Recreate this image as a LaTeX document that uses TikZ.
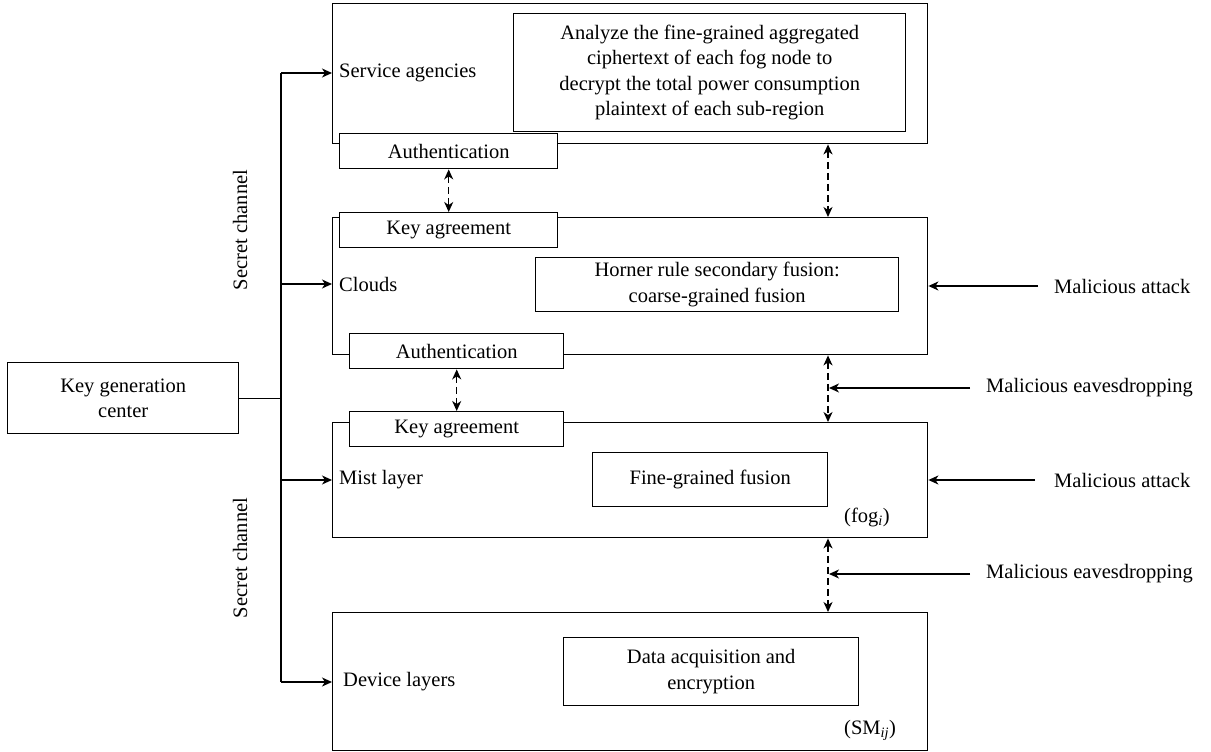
\documentclass[tikz,border=0pt]{standalone}
\usepackage{fontspec}
\setmainfont{LiberationSerif-Regular.ttf}[BoldFont=LiberationSerif-Bold.ttf, ItalicFont=LiberationSerif-Italic.ttf]
\usetikzlibrary{arrows.meta}
\begin{document}
\begin{tikzpicture}[x=1pt,y=-1pt,
  font=\fontsize{20.5}{25.5}\selectfont,
  lay/.style={draw, line width=1.4pt, anchor=north west, inner sep=0pt},
  ibox/.style={draw, fill=white, line width=1.4pt, anchor=north west, align=center, inner sep=0pt},
  txt/.style={inner sep=0pt, anchor=west},
  arr/.style={-{Stealth[length=10pt,width=9pt,inset=3pt]}, line width=1.4pt},
  darr/.style={{Stealth[length=10pt,width=9pt,inset=3pt]}-{Stealth[length=10pt,width=9pt,inset=3pt]}, line width=1.4pt, dash pattern=on 7pt off 4pt},
  plain/.style={line width=1.4pt}]
\useasboundingbox (0,0) rectangle (1211,752);

% layer boxes
\node[lay, minimum width=595pt, minimum height=140pt] (svc) at (332,3) {};
\node[lay, minimum width=595pt, minimum height=137pt] (cld) at (332,217) {};
\node[lay, minimum width=595pt, minimum height=115pt] (mst) at (332,422) {};
\node[lay, minimum width=595pt, minimum height=138pt] (dev) at (332,612) {};

% inner boxes
\node[ibox, minimum width=392pt, minimum height=118pt] (ana) at (513,13)
  {Analyze the fine-grained aggregated\\ciphertext of each fog node to\\decrypt the total power consumption\\plaintext of each sub-region};
\node[ibox, minimum width=218pt, minimum height=35pt] (au1) at (339,133) {Authentication};
\node[ibox, minimum width=218pt, minimum height=35pt] (ka1) at (339,212) {Key agreement};
\node[ibox, minimum width=363pt, minimum height=54pt] (hor) at (535,257)
  {Horner rule secondary fusion:\\coarse-grained fusion};
\node[ibox, minimum width=214pt, minimum height=35pt] (au2) at (349,333) {Authentication};
\node[ibox, minimum width=214pt, minimum height=35pt] (ka2) at (349,411) {Key agreement};
\node[ibox, minimum width=235pt, minimum height=54pt] (fin) at (592,452) {Fine-grained fusion};
\node[ibox, minimum width=295pt, minimum height=68pt] (dat) at (563,637)
  {Data acquisition and\\encryption};
\node[ibox, minimum width=231pt, minimum height=71pt] (kgc) at (7,362)
  {Key generation\\center};

% layer labels
\node[txt] (lsvc) at (339,73) {Service agencies};
\node[txt] (lcld) at (339,284) {Clouds};
\node[txt] (lmst) at (339,480) {Mist layer};
\node[txt] (ldev) at (343,682) {Device layers};
\node[txt] (fog) at (844,517) {(fog\textsubscript{\textit{i}})};
\node[txt] (sm) at (844,730) {(SM\textsubscript{\textit{ij}})};

% secret channel labels
\node[rotate=90, inner sep=0pt] (sc1) at (240,230) {Secret channel};
\node[rotate=90, inner sep=0pt] (sc2) at (240,558) {Secret channel};

% trunk
\coordinate (t1) at (281,73);
\coordinate (t2) at (281,284);
\coordinate (t3) at (281,480);
\coordinate (t4) at (281,682);
\draw[plain] (t1) -- (t4);
\draw[plain] (kgc.east) -- (kgc.east -| t1);
\draw[arr] (t1) -- (t1 -| svc.west);
\draw[arr] (t2) -- (t2 -| cld.west);
\draw[arr] (t3) -- (t3 -| mst.west);
\draw[arr] (t4) -- (t4 -| dev.west);

% dashed links
\draw[darr] (au1.south) -- (ka1.north);
\draw[darr] (au2.south) -- (ka2.north);
\coordinate (dx) at (828,0);
\draw[darr] (svc.south -| dx) -- (cld.north -| dx);
\draw[darr] (cld.south -| dx) -- (mst.north -| dx);
\draw[darr] (mst.south -| dx) -- (dev.north -| dx);

% threats
\node[txt] (att1) at (1054,286) {Malicious attack};
\node[txt] (att2) at (1054,480) {Malicious attack};
\node[txt] (eav1) at (986,388) {Malicious eavesdropping};
\node[txt] (eav2) at (986,574) {Malicious eavesdropping};
\draw[arr] ([xshift=-16pt]att1.west) -- (att1.west -| cld.east);
\draw[arr] ([xshift=-19pt]att2.west) -- (att2.west -| mst.east);
\draw[arr] ([xshift=-16pt]eav1.west) -- ([xshift=1pt]eav1.west -| dx);
\draw[arr] ([xshift=-16pt]eav2.west) -- ([xshift=1pt]eav2.west -| dx);
\end{tikzpicture}
\end{document}
